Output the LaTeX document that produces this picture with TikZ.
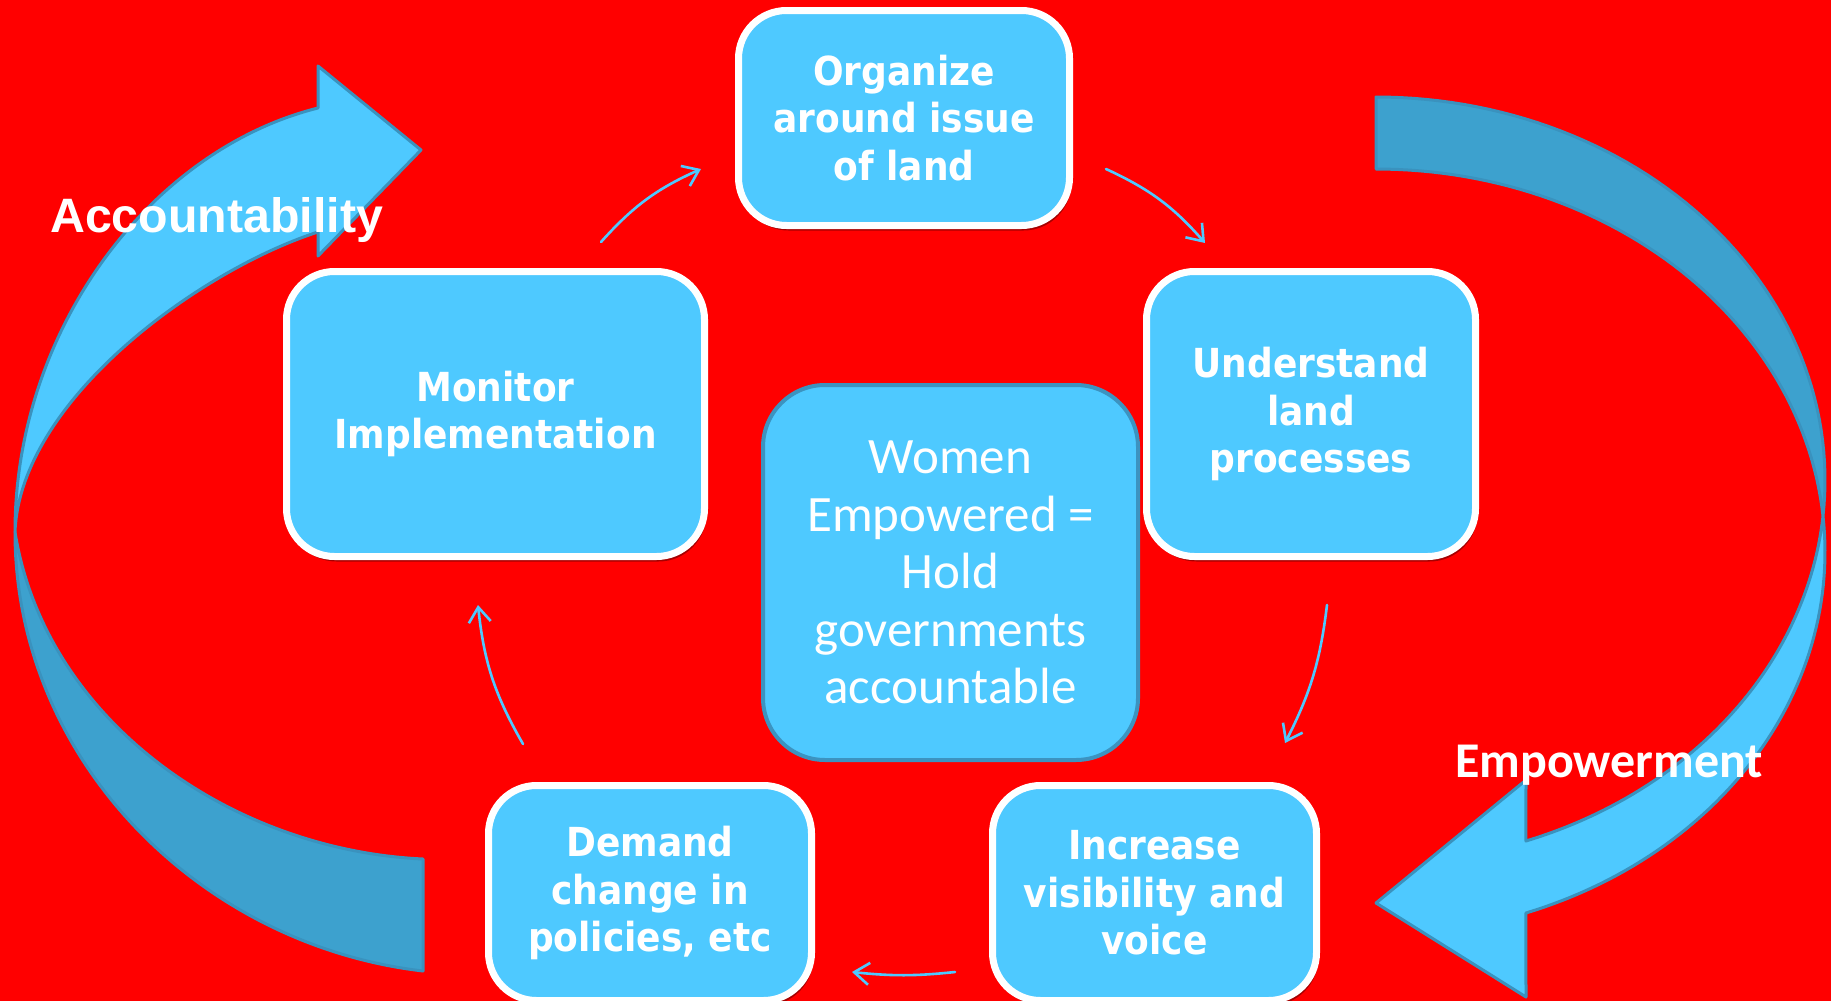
\documentclass[tikz,border=0pt]{standalone}
\usepackage{fontspec}
\setmainfont{DejaVu Sans}
\newfontfamily\stagefont{DejaVu Sans Condensed}
\newfontfamily\hubfont{Carlito}
\newfontfamily\tagfont{Liberation Sans}
\usetikzlibrary{arrows.meta,shadows}

\definecolor{bgred}{HTML}{FF0000}
\definecolor{skyfill}{HTML}{4EC9FF}
\definecolor{ribbondark}{HTML}{3DA1CE}
\definecolor{ribbonedge}{HTML}{3A92BE}
\definecolor{hubedge}{HTML}{3C93C0}

\begin{document}
\begin{tikzpicture}[x=1pt,y=-1pt,
  cyclebox/.style={draw=white, line width=7pt, fill=skyfill, rounded corners=48pt,
    text=white, align=center, inner sep=0pt,
    font=\stagefont\bfseries\fontsize{40}{47.5}\selectfont,
    drop shadow={shadow xshift=2pt, shadow yshift=-5pt, opacity=0.35, fill=black}},
  hubbox/.style={draw=hubedge, line width=4pt, fill=skyfill, rounded corners=62pt,
    text=white, align=center, inner sep=0pt,
    font=\hubfont\fontsize{51}{57.5}\selectfont},
  ribbon/.style={draw=ribbonedge, line width=3pt, line join=round},
  flow/.style={draw=skyfill, line width=2.6pt, line cap=round,
    -{Straight Barb[length=15pt, width=22pt]}},
  sidelabel/.style={text=white, inner sep=0pt, anchor=base west}]

% page and background
\useasboundingbox (0,0) rectangle (1831,1001);
\clip (0,0) rectangle (1831,1001);
\fill[bgred] (0,0) rectangle (1831,1001);

% left curved arrow: back ribbon, then front ribbon with head
\filldraw[ribbon, fill=ribbondark]
  (15,532) .. controls (15,760) and (200,945) .. (423,971)
  -- (423,859) .. controls (230,850) and (45,720) .. (15,532) -- cycle;
\filldraw[ribbon, fill=skyfill]
  (15,532) .. controls (15,330) and (150,150) .. (318,108)
  -- (318,66) -- (421,150) -- (318,256) -- (318,232)
  .. controls (200,270) and (20,400) .. (15,532) -- cycle;

% right curved arrow: back ribbon, then front ribbon with head
\filldraw[ribbon, fill=ribbondark]
  plot[domain=-90:5.39, samples=60] ({1376+449*cos(\x)},{480+383*sin(\x)})
  -- plot[domain=-5.39:-90, samples=60] ({1376+449*cos(\x)},{552+383*sin(\x)})
  -- cycle;
\filldraw[ribbon, fill=skyfill]
  plot[domain=-5.39:70.5, samples=60] ({1376+449*cos(\x)},{552+383*sin(\x)})
  -- (1526,997) -- (1376,903) -- (1526,780)
  -- plot[domain=70.5:5.39, samples=60] ({1376+449*cos(\x)},{480+383*sin(\x)})
  -- cycle;

% the cycle of stages
\node[cyclebox, minimum width=331pt, minimum height=215pt] (organize) at (904,118)
  {Organize\\around issue\\of land};
\node[cyclebox, minimum width=329pt, minimum height=285pt] (understand) at (1311,414)
  {Understand\\land\\processes};
\node[cyclebox, minimum width=324pt, minimum height=215pt] (increase) at (1154.5,893)
  {Increase\\visibility and\\voice};
\node[cyclebox, minimum width=323pt, minimum height=215pt] (demand) at (650,893)
  {Demand\\change in\\policies, etc};
\node[cyclebox, minimum width=418pt, minimum height=285pt] (monitor) at (495.5,414)
  {Monitor\\Implementation};

% central outcome
\node[hubbox, minimum width=375pt, minimum height=375pt] (hub) at (950.5,572.5)
  {Women\\Empowered =\\Hold\\governments\\accountable};

% connectors between the stages
\coordinate (m2o-a) at (601,242);  \coordinate (m2o-b) at (701,169);
\coordinate (o2u-a) at (1106,169); \coordinate (o2u-b) at (1205,243);
\coordinate (u2i-a) at (1327,605); \coordinate (u2i-b) at (1285,743);
\coordinate (i2d-a) at (955,972);  \coordinate (i2d-b) at (852,972);
\coordinate (d2m-a) at (523,744);  \coordinate (d2m-b) at (478,605);
\draw[flow] (m2o-a) to[bend left=12] (m2o-b);
\draw[flow] (o2u-a) to[bend left=12] (o2u-b);
\draw[flow] (u2i-a) to[bend left=10] (u2i-b);
\draw[flow] (i2d-a) to[bend left=6] (i2d-b);
\draw[flow] (d2m-a) to[bend left=12] (d2m-b);

% labels of the two loops
\node[sidelabel, font=\tagfont\bfseries\fontsize{48.3}{58}\selectfont] (acc) at (50,232)
  {Accountability};
\node[sidelabel, font=\hubfont\bfseries\fontsize{50}{60}\selectfont] (emp) at (1455,777)
  {Empowerment};
\end{tikzpicture}
\end{document}
